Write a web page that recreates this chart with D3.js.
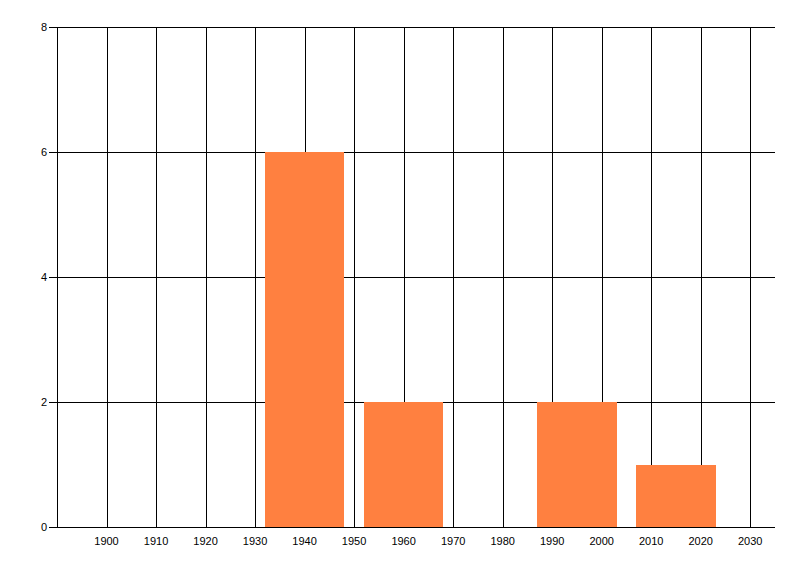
<!DOCTYPE html>
<html>
<head>
<meta charset="utf-8">
<script src="https://cdn.jsdelivr.net/npm/d3@7"></script>
<style>
  body { margin: 0; background: #fff; }
  text { font-family: "Liberation Sans", Arial, sans-serif; font-size: 11px; fill: #000; }
</style>
</head>
<body>
<svg id="chart" width="800" height="576"></svg>
<script>
// bar centres (year), heights
var years = [1940, 1960, 1995, 2015];
var counts = [6, 2, 2, 1];
var binWidth = 16; // years
var xTicks = [1900, 1910, 1920, 1930, 1940, 1950, 1960, 1970, 1980, 1990, 2000, 2010, 2020, 2030];
var yTicks = [0, 2, 4, 6, 8];

var svg = d3.select("#chart"),
    plotLeft = 57, plotRight = 775, plotTop = 27, plotBottom = 527;

var x = d3.scaleLinear().domain([1890, 2035]).range([plotLeft, plotRight]),
    y = d3.scaleLinear().domain([0, 8]).range([plotBottom, plotTop]);

// vertical grid
svg.append("g")
  .selectAll("line")
  .data(xTicks)
  .enter().append("line")
  .attr("x1", function(d) { return Math.round(x(d)) + 0.5; })
  .attr("x2", function(d) { return Math.round(x(d)) + 0.5; })
  .attr("y1", plotTop)
  .attr("y2", plotBottom)
  .attr("stroke", "#000");

// horizontal grid + y ticks
svg.append("g")
  .selectAll("line")
  .data(yTicks)
  .enter().append("line")
  .attr("x1", plotLeft - 8)
  .attr("x2", plotRight)
  .attr("y1", function(d) { return Math.round(y(d)) + 0.5; })
  .attr("y2", function(d) { return Math.round(y(d)) + 0.5; })
  .attr("stroke", "#000");

// bars
svg.append("g")
  .selectAll("rect")
  .data(years)
  .enter().append("rect")
  .attr("x", function(d) { return Math.round(x(d - binWidth / 2)); })
  .attr("width", function(d) { return Math.round(x(d + binWidth / 2)) - Math.round(x(d - binWidth / 2)); })
  .attr("y", function(d, i) { return Math.round(y(counts[i])); })
  .attr("height", function(d, i) { return Math.round(y(0)) - Math.round(y(counts[i])); })
  .attr("fill", "#FF8040");

// axis lines
svg.append("line")
  .attr("x1", plotLeft + 0.5).attr("x2", plotLeft + 0.5)
  .attr("y1", plotTop).attr("y2", plotBottom + 1)
  .attr("stroke", "#000");
svg.append("line")
  .attr("x1", plotLeft - 8).attr("x2", plotRight)
  .attr("y1", plotBottom + 0.5).attr("y2", plotBottom + 0.5)
  .attr("stroke", "#000");

// labels
svg.append("g")
  .selectAll("text")
  .data(xTicks)
  .enter().append("text")
  .attr("x", function(d) { return x(d); })
  .attr("y", plotBottom + 18)
  .attr("text-anchor", "middle")
  .text(function(d) { return d; });

svg.append("g")
  .selectAll("text")
  .data(yTicks)
  .enter().append("text")
  .attr("x", plotLeft - 10)
  .attr("y", function(d) { return y(d) + 4; })
  .attr("text-anchor", "end")
  .text(function(d) { return d; });
</script>
</body>
</html>
